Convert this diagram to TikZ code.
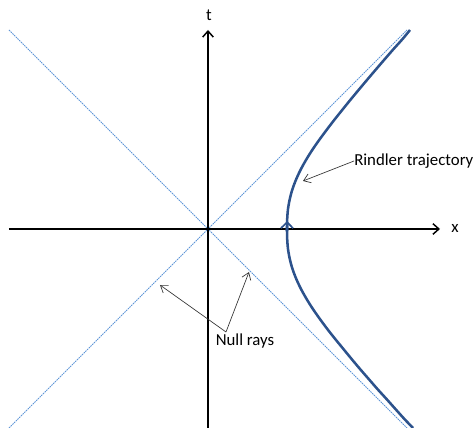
\documentclass[tikz,border=0pt]{standalone}
\usepackage{fontspec}
\setmainfont{Carlito}
\usetikzlibrary{arrows.meta}
\definecolor{CurveBlue}{RGB}{44,82,140}
\definecolor{RayBlue}{RGB}{95,150,215}

\begin{document}
\begin{tikzpicture}[
			x=0.75pt, y=0.75pt,
			axis/.style={-{Straight Barb[length=4.5pt, width=8pt]}, line width=1.1pt},
			nullray/.style={draw=RayBlue, line width=0.6pt, dash pattern=on 1.2pt off 0.6pt},
			worldline/.style={draw=CurveBlue, line width=1.9pt},
			callout/.style={-{Straight Barb[length=5pt, width=7pt]}, line width=0.5pt, draw=black!80},
			lbl/.style={font=\fontsize{12.6}{15}\selectfont, inner sep=0pt}
			]
			\useasboundingbox (-208,-199) rectangle (267,229);
			\coordinate (O) at (0,0);
			\coordinate (xmin) at (-199,0);
			\coordinate (xmax) at (232,0);
			\coordinate (tmin) at (0,-199);
			\coordinate (tmax) at (0,199);
			
			% Null rays
			\draw[nullray] (-199,199) -- (199,-199);
			\draw[nullray] (-199,-199) -- (199,199);
			
			% Axes
			\draw[axis] (xmin) -- (xmax);
			\draw[axis] (tmin) -- (tmax);
			\node[lbl] (xlbl) at (247,1) {x};
			\node[lbl] (tlbl) at (1,214) {t};
			
			% Rindler trajectory
			\draw[worldline]
			plot[smooth] coordinates {(205,-199) (196.4,-190) (187.4,-180) (178.5,-170) (169.4,-160) (160.7,-150)
				(152.0,-140) (143.6,-130) (135.4,-120) (127.2,-110) (119.3,-100) (111.9,-90) (104.9,-80) (98.6,-70)
				(93.0,-60) (88.3,-50) (84.5,-40) (81.8,-30) (80.0,-20) (79.2,-10) (79,0)
				(79.2,10) (80.0,20) (81.8,30) (84.5,40) (88.3,50) (93.0,60) (98.6,70) (104.9,80) (111.9,90)
				(119.3,100) (127.0,110) (135.0,120) (143.1,130) (151.4,140) (159.8,150) (168.3,160) (176.9,170)
				(185.6,180) (194.6,190) (202,199)};
			% direction of proper time
			\coordinate (vtx) at (79,-2);
			\coordinate (vtip) at (79.1,8);
			\draw[worldline, -{Straight Barb[length=4.5pt, width=9pt, line width=1.3pt]}] (vtx) -- (vtip);
			
			% Labels
			\node[lbl, anchor=west] (rindler) at (146,68) {Rindler trajectory};
			\coordinate (rtip) at (95,48);
			\draw[callout] (rindler.west) -- (rtip);
			
			\node[lbl] (null) at (37,-112) {Null rays};
			\coordinate (nfork) at (18,-103);
			\coordinate (ltip) at (-48,-56);
			\coordinate (rrtip) at (41,-43);
			\draw[callout] (nfork) -- (ltip);
			\draw[callout] (nfork) -- (rrtip);
		\end{tikzpicture}
\end{document}
